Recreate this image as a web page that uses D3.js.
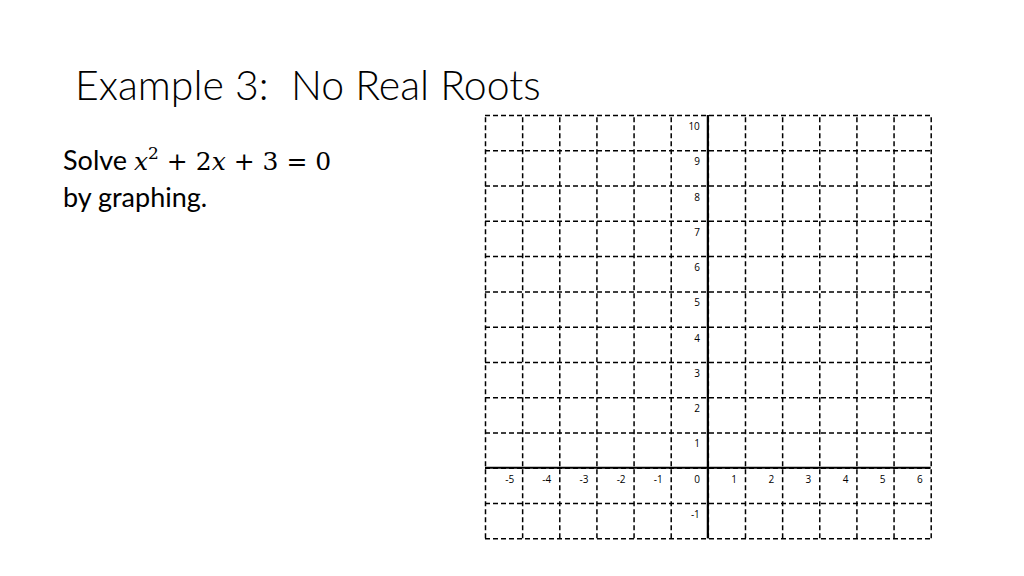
<!DOCTYPE html>
<meta charset="utf-8">
<script src="https://d3js.org/d3.v7.min.js"></script>
<style>
  body { margin: 0; background: #fff; }
  text { fill: #000; }
</style>
<div id="slide"></div>
<script>

// tick labels and grid values
var xLabels = [-5, -4, -3, -2, -1, 0, 1, 2, 3, 4, 5, 6];
var yLabels = [10, 9, 8, 7, 6, 5, 4, 3, 2, 1, -1];
var xGrid = [-6, -5, -4, -3, -2, -1, 0, 1, 2, 3, 4, 5, 6];
var yGrid = [-2, -1, 0, 1, 2, 3, 4, 5, 6, 7, 8, 9, 10];

var svg = d3.select("#slide")
  .append("svg")
    .attr("width", 1024)
    .attr("height", 576);

// title
svg.append("text")
  .attr("x", 75)
  .attr("y", 100)
  .style("font-family", "Lato")
  .style("font-weight", 300)
  .style("font-size", "41px")
  .attr("xml:space", "preserve")
  .text("Example 3:  No Real Roots");

// body text
var line1 = svg.append("text")
  .attr("x", 63)
  .attr("y", 170)
  .style("font-family", "Lato")
  .style("font-size", "27px");
line1.append("tspan").text("Solve ");
line1.append("tspan")
  .style("font-family", "DejaVu Serif")
  .style("font-style", "italic")
  .style("font-size", "25px")
  .text("x");
line1.append("tspan")
  .attr("dy", -11)
  .style("font-family", "DejaVu Serif")
  .style("font-size", "17px")
  .text("2");
line1.append("tspan")
  .attr("dy", 11)
  .style("font-family", "DejaVu Serif")
  .style("font-size", "25px")
  .attr("xml:space", "preserve")
  .text(" + 2");
line1.append("tspan")
  .style("font-family", "DejaVu Serif")
  .style("font-style", "italic")
  .style("font-size", "25px")
  .text("x");
line1.append("tspan")
  .style("font-family", "DejaVu Serif")
  .style("font-size", "25px")
  .attr("xml:space", "preserve")
  .text(" + 3 = 0");

svg.append("text")
  .attr("x", 63)
  .attr("y", 207)
  .style("font-family", "Lato")
  .style("font-size", "27px")
  .text("by graphing.");

// scales
var x = d3.scaleLinear().domain([-6, 6]).range([485, 930.7]);
var y = d3.scaleLinear().domain([-2, 10]).range([538.3, 115]);

var g = svg.append("g");

// dashed grid
g.append("g")
  .attr("transform", "translate(0," + y(-2) + ")")
  .call(d3.axisBottom(x).tickValues(xGrid).tickSize(-(y(-2) - y(10))).tickFormat(""))
  .call(function(a) { a.select(".domain").remove(); })
  .selectAll("line")
    .attr("stroke", "#000")
    .attr("stroke-width", 1.5)
    .attr("stroke-dasharray", "5,3");

g.append("g")
  .attr("transform", "translate(" + x(-6) + ",0)")
  .call(d3.axisLeft(y).tickValues(yGrid).tickSize(-(x(6) - x(-6))).tickFormat(""))
  .call(function(a) { a.select(".domain").remove(); })
  .selectAll("line")
    .attr("stroke", "#000")
    .attr("stroke-width", 1.5)
    .attr("stroke-dasharray", "5,3");

// solid axes
g.append("line")
  .attr("x1", x(-6)).attr("x2", x(6))
  .attr("y1", y(0)).attr("y2", y(0))
  .attr("stroke", "#000")
  .attr("stroke-width", 2.2);

g.append("line")
  .attr("x1", x(0)).attr("x2", x(0))
  .attr("y1", y(10)).attr("y2", y(-2))
  .attr("stroke", "#000")
  .attr("stroke-width", 2.2);

// x labels, right aligned in the cell left of each value
g.selectAll(".xlab")
  .data(xLabels)
  .enter()
  .append("text")
    .attr("class", "xlab")
    .attr("x", function(d) { return x(d) - 8; })
    .attr("y", y(0) + 15)
    .style("text-anchor", "end")
    .style("font-family", "Open Sans")
    .style("font-size", "10px")
    .text(function(d) { return d; });

// y labels, in the column left of the y axis
g.selectAll(".ylab")
  .data(yLabels)
  .enter()
  .append("text")
    .attr("class", "ylab")
    .attr("x", x(0) - 8)
    .attr("y", function(d) { return y(d) + 15; })
    .style("text-anchor", "end")
    .style("font-family", "Open Sans")
    .style("font-size", "10px")
    .text(function(d) { return d; });

</script>
